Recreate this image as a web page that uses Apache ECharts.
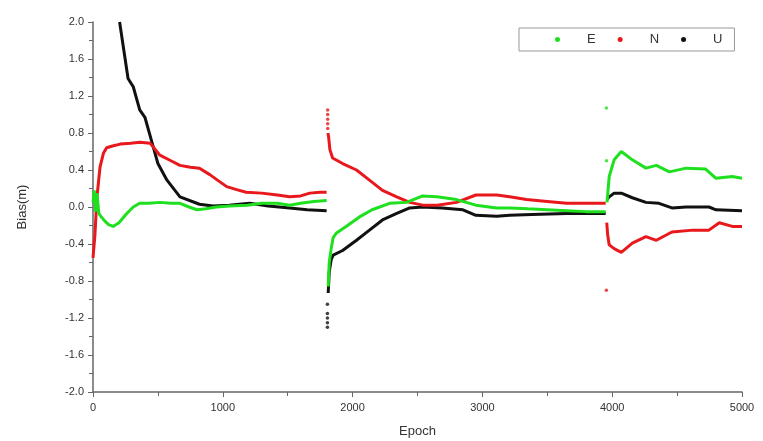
<!DOCTYPE html>
<html><head><meta charset="utf-8">
<script src="https://cdn.jsdelivr.net/npm/echarts@6/dist/echarts.min.js"></script>
<style>html,body{margin:0;padding:0;background:#fff}#c{width:763px;height:441px}</style>
</head><body><div id="c"></div>
<script>
// ---- data (three segments, separated by breaks) ----
const eEpoch1 = [0,10,20,30,45,60,90,120,155,200,260,310,360,430,515,600,670,740,800,870,950,1050,1190,1300,1420,1515,1600,1700,1800];
const eVal1   = [0.05,0.18,-0.05,0.15,-0.07,-0.1,-0.15,-0.19,-0.21,-0.17,-0.07,0.0,0.04,0.04,0.05,0.04,0.04,0.0,-0.03,-0.02,0.0,0.01,0.02,0.04,0.04,0.02,0.04,0.06,0.07];
const eEpoch2 = [1812,1820,1835,1850,1876,1950,2050,2150,2285,2415,2540,2650,2800,2950,3110,3210,3350,3500,3650,3800,3950];
const eVal2   = [-0.86,-0.6,-0.45,-0.33,-0.28,-0.21,-0.11,-0.03,0.04,0.05,0.12,0.11,0.08,0.02,-0.01,-0.01,-0.02,-0.03,-0.04,-0.05,-0.05];
const eEpoch3 = [3960,3977,4015,4070,4155,4260,4340,4440,4570,4720,4800,4925,5000];
const eVal3   = [0.05,0.33,0.51,0.60,0.51,0.42,0.45,0.38,0.42,0.41,0.31,0.33,0.31];
const eDots   = [[3955,1.07],[3956,0.5]];

const nEpoch1 = [0,15,30,54,80,105,150,210,290,360,440,515,600,670,750,820,900,970,1030,1100,1180,1300,1420,1515,1600,1670,1750,1800];
const nVal1   = [-0.55,-0.3,0.1,0.43,0.58,0.64,0.66,0.68,0.69,0.70,0.69,0.56,0.50,0.45,0.43,0.42,0.35,0.28,0.22,0.19,0.16,0.15,0.13,0.11,0.12,0.15,0.16,0.16];
const nEpoch2 = [1810,1815,1825,1846,1923,2030,2130,2230,2340,2440,2540,2650,2800,2950,3110,3210,3340,3500,3650,3800,3950];
const nVal2   = [0.8,0.76,0.62,0.53,0.47,0.40,0.29,0.18,0.11,0.05,0.02,0.02,0.05,0.13,0.13,0.11,0.08,0.06,0.04,0.04,0.04];
const nEpoch3 = [3958,3965,3977,4015,4070,4155,4260,4340,4460,4620,4745,4825,4925,5000];
const nVal3   = [-0.17,-0.3,-0.41,-0.45,-0.49,-0.39,-0.32,-0.36,-0.27,-0.25,-0.25,-0.17,-0.21,-0.21];
const nDots   = [[1808,1.05],[1808,1.0],[1808,0.95],[1808,0.9],[1808,0.85],[3955,-0.9]];

const uEpoch1 = [205,215,270,310,360,400,450,500,570,670,820,925,1050,1208,1350,1515,1650,1800];
const uVal1   = [2.0,1.99,1.39,1.30,1.05,0.97,0.72,0.47,0.29,0.11,0.03,0.01,0.02,0.04,0.01,-0.01,-0.03,-0.04];
const uEpoch2 = [1812,1820,1835,1850,1923,2030,2130,2230,2340,2440,2540,2690,2850,2950,3110,3210,3380,3650,3950];
const uVal2   = [-0.93,-0.7,-0.57,-0.52,-0.47,-0.36,-0.25,-0.14,-0.07,-0.01,0.0,-0.01,-0.03,-0.09,-0.10,-0.09,-0.08,-0.07,-0.07];
const uEpoch3 = [3960,3977,4015,4070,4155,4260,4360,4460,4570,4745,4800,5000];
const uVal3   = [0.08,0.11,0.15,0.15,0.10,0.05,0.04,-0.01,0.0,0.0,-0.03,-0.04];
const uDots   = [[1806,-1.30],[1806,-1.25],[1806,-1.2],[1806,-1.15],[1806,-1.05]];

const yTicks = { min: -2.0, max: 2.0, interval: 0.4 };
const xTicks = { min: 0, max: 5000, interval: 1000 };

function join(segs) {
  const out = [];
  segs.forEach((s, i) => {
    if (i > 0) out.push([s[0][0] - 1, '-']);
    s[0].forEach((x, k) => out.push([x, s[1][k]]));
  });
  return out;
}
const C = { E: '#1fe01f', N: '#e8181c', U: '#111111' };
const ser = [
  ['U', join([[uEpoch1,uVal1],[uEpoch2,uVal2],[uEpoch3,uVal3]]), uDots],
  ['N', join([[nEpoch1,nVal1],[nEpoch2,nVal2],[nEpoch3,nVal3]]), nDots],
  ['E', join([[eEpoch1,eVal1],[eEpoch2,eVal2],[eEpoch3,eVal3]]), eDots]
];
const series = [];
ser.forEach(([name, line, dots]) => {
  series.push({ name, type: 'line', data: line, showSymbol: false, connectNulls: false,
    lineStyle: { color: C[name], width: 3 }, itemStyle: { color: C[name] }, z: 2 });
  series.push({ name, type: 'scatter', data: dots, symbolSize: 3.5,
    itemStyle: { color: C[name] }, z: 3 });
});

const chart = echarts.init(document.getElementById('c'));
const font = 'Liberation Sans, Arial, sans-serif';
chart.setOption({
  animation: false,
  backgroundColor: '#fff',
  textStyle: { fontFamily: font },
  grid: { left: 93, right: 21, top: 22, bottom: 49, outerBoundsMode: 'none', containLabel: false },
  legend: {
    data: ['E', 'N', 'U'],
    left: 519, top: 28,
    icon: 'circle', itemWidth: 5, itemHeight: 5, itemGap: 22,
    borderColor: '#999', borderWidth: 1,
    padding: [5, 12, 5, 36],
    textStyle: { fontSize: 13, color: '#333', fontFamily: font, padding: [0, 0, 0, 22] }
  },
  xAxis: {
    type: 'value', min: xTicks.min, max: xTicks.max, interval: xTicks.interval,
    name: 'Epoch', nameLocation: 'middle', nameGap: 33,
    nameTextStyle: { fontSize: 13, color: '#333' },
    axisLine: { onZero: false, lineStyle: { color: '#666', width: 1.5 } },
    axisTick: { length: 5, lineStyle: { color: '#666' } },
    minorTick: { show: true, splitNumber: 2, length: 4, lineStyle: { color: '#666' } },
    axisLabel: { fontSize: 11, color: '#333', margin: 10, formatter: v => String(v) },
    splitLine: { show: false }
  },
  yAxis: {
    type: 'value', min: yTicks.min, max: yTicks.max, interval: yTicks.interval,
    name: 'Bias(m)', nameLocation: 'middle', nameGap: 64, nameRotate: 90,
    nameTextStyle: { fontSize: 13, color: '#333' },
    axisLine: { show: true, onZero: false, lineStyle: { color: '#666', width: 1.5 } },
    axisTick: { show: true, length: 5, lineStyle: { color: '#666' } },
    minorTick: { show: true, splitNumber: 2, length: 4, lineStyle: { color: '#666' } },
    axisLabel: { fontSize: 11, color: '#333', margin: 9, formatter: v => v.toFixed(1) },
    splitLine: { show: false }
  },
  series
});
</script></body></html>
